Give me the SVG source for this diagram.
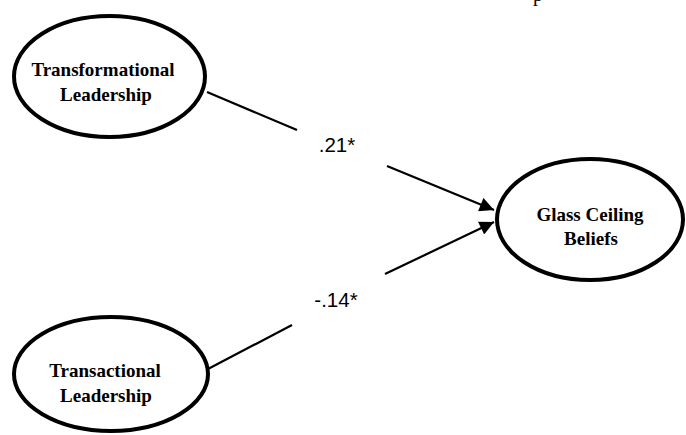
<svg xmlns="http://www.w3.org/2000/svg" width="686" height="435" viewBox="0 0 686 435">
<style>
.node ellipse{fill:#fff;stroke:#000;stroke-width:4}
.node text{font-family:"Liberation Serif","Times New Roman",serif;font-weight:bold;font-size:19px;text-anchor:middle;fill:#000}
.conn line{stroke:#000;stroke-width:2.2}
.lbl{font-family:"Liberation Sans",Arial,sans-serif;font-size:20.5px;text-anchor:middle;fill:#000}
</style>
<defs>
<marker id="ah" viewBox="0 0 10 10" refX="10" refY="5" markerWidth="8" markerHeight="6.5" markerUnits="strokeWidth" orient="auto">
<path d="M0,0 L10,5 L0,10 z" fill="#000"/>
</marker>
</defs>
<rect width="686" height="435" fill="#fff"/>
<text x="533" y="1" style="font-family:'Liberation Serif',serif;font-size:20px">p</text>
<g class="conn">
<line x1="207" y1="92" x2="297" y2="130"/>
<line x1="387" y1="166" x2="494" y2="210" marker-end="url(#ah)"/>
<line x1="208" y1="369" x2="292" y2="325"/>
<line x1="385" y1="274" x2="494" y2="222" marker-end="url(#ah)"/>
<text class="lbl" x="337" y="152">.21*</text>
<text class="lbl" x="336" y="307">-.14*</text>
</g>
<g id="transformational" class="node">
<ellipse cx="109.5" cy="76.5" rx="95.5" ry="60.5"/>
<text x="103" y="76">Transformational</text>
<text x="106" y="101">Leadership</text>
</g>
<g id="transactional" class="node">
<ellipse cx="111" cy="374" rx="97" ry="57"/>
<text x="105" y="377">Transactional</text>
<text x="106" y="402">Leadership</text>
</g>
<g id="glass" class="node">
<ellipse cx="590" cy="219.5" rx="93" ry="60.5"/>
<text x="590" y="221">Glass Ceiling</text>
<text x="591" y="245">Beliefs</text>
</g>
</svg>
